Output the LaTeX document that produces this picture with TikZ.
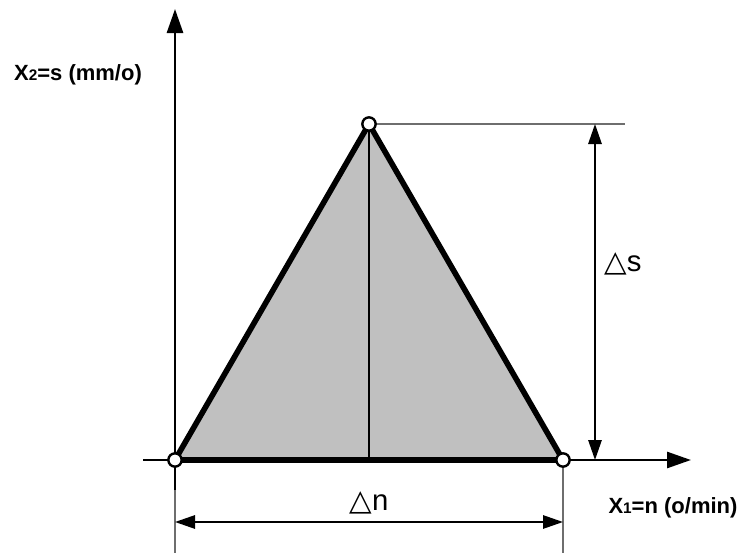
\documentclass[tikz,border=0pt]{standalone}
\usepackage{fontspec}
\setmainfont{Liberation Sans}
\newfontfamily\symfont{DejaVu Sans}
\usetikzlibrary{arrows.meta}
\definecolor{areagray}{RGB}{192,192,192}
\definecolor{extgray}{RGB}{110,110,110}
\tikzset{
  axisln/.style={-{Triangle[length=18pt,width=12pt]}, line width=2pt},
  edgeln/.style={line width=4.2pt, line cap=round, line join=round},
  dimln/.style={{Triangle[length=15pt,width=10pt]}-{Triangle[length=15pt,width=10pt]}, line width=1.4pt},
  extln/.style={line width=0.9pt, extgray},
  vertex/.style={circle, draw, fill=white, line width=1.8pt, inner sep=0pt, minimum size=10pt},
  axislab/.style={font=\fontsize{16.5}{19}\selectfont\bfseries},
  dimlab/.style={font=\fontsize{22}{26}\selectfont},
}
\newcommand{\sml}[1]{{\fontsize{11.5}{13}\selectfont #1}}
\newcommand{\dl}{{\symfont △}}

\begin{document}
\begin{tikzpicture}[x=0.75pt, y=-0.75pt]
    \useasboundingbox (0,0) rectangle (744,553);
    % corner points
    \coordinate (O) at (175,460);
    \coordinate (R) at (563,460);
    \coordinate (T) at (369,124);
    \coordinate (M) at (369,460);
    % triangle area
    \fill[areagray] (O) -- (T) -- (R) -- cycle;
    % extension lines
    \coordinate (Tx) at (625,124);
    \coordinate (Ob) at (175,553);
    \coordinate (Rb) at (563,553);
    \draw[extln] (T) -- (Tx);
    \draw[extln] (O) -- (Ob);
    \draw[extln] (R) -- (Rb);
    % axes
    \coordinate (xa) at (143,460);
    \coordinate (xb) at (691,460);
    \coordinate (ya) at (175,490);
    \coordinate (yb) at (175,9);
    \draw[axisln] (xa) -- (xb);
    \draw[axisln] (ya) -- (yb);
    % triangle and its middle line
    \draw[line width=2pt] (T) -- (M);
    \draw[edgeln] (O) -- (T) -- (R) -- cycle;
    % dimensions
    \coordinate (sb) at (595,460);
    \coordinate (st) at (595,124);
    \coordinate (nl) at (175,522);
    \coordinate (nr) at (563,522);
    \draw[dimln] (sb) -- (st);
    \draw[dimln] (nl) -- (nr);
    \node[dimlab] (ds) at (623,264) {\dl s};
    \node[dimlab] (dn) at (369,503) {\dl n};
    % corner markers
    \node[vertex] (vo) at (O) {};
    \node[vertex] (vr) at (R) {};
    \node[vertex] (vt) at (T) {};
    % axis labels
    \node[axislab] (ylab) at (78,75) {X\sml{2}=s (mm/o)};
    \node[axislab] (xlab) at (673,508) {X\sml{1}=n (o/min)};
\end{tikzpicture}
\end{document}
